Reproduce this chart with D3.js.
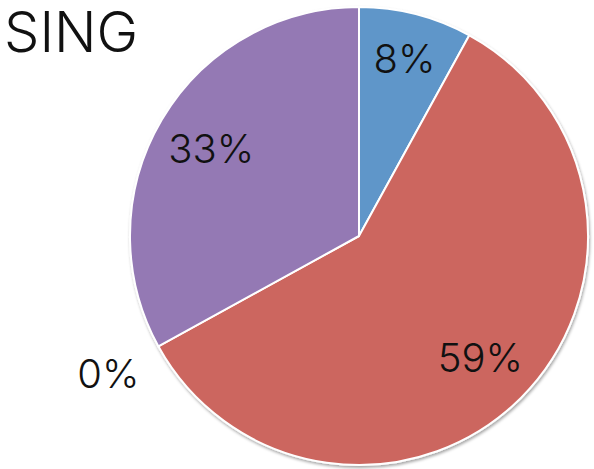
<!DOCTYPE html>
<html>
<head>
<meta charset="utf-8">
<script src="https://cdn.jsdelivr.net/npm/d3@7/dist/d3.min.js"></script>
<style>
  html, body { margin: 0; padding: 0; background: #fff; }
  svg { display: block; }
  text { font-family: Inter, Roboto, "Liberation Sans", Arial, sans-serif; fill: #111; }
</style>
</head>
<body>
<svg id="chart" width="594" height="469"></svg>
<script>
// Share of answers for "SING", clockwise from 12 o'clock
const title = "SING";
const categories = ["A", "B", "C", "D"];
const values = [8, 59, 0, 33];
const colors = ["#5f96c9", "#cc665f", "#cc665f", "#9479b4"];

const width = 594, height = 469;
const cx = 359, cy = 236, radius = 229;

const svg = d3.select("#chart");

const defs = svg.append("defs");
const shadow = defs.append("filter").attr("id", "pieShadow")
  .attr("x", "-10%").attr("y", "-10%").attr("width", "120%").attr("height", "120%");
shadow.append("feDropShadow")
  .attr("dx", 1).attr("dy", 2).attr("stdDeviation", 1.5)
  .attr("flood-color", "#000").attr("flood-opacity", 0.35);

svg.append("text")
  .attr("x", 4).attr("y", 52)
  .attr("font-size", 56)
  .attr("font-weight", 300)
  .text(title);

const pie = d3.pie().sort(null).value(d => d.value);
const data = categories.map((c, i) => ({ cat: c, value: values[i], color: colors[i] }));
const arcs = pie(data);

const arc = d3.arc().innerRadius(0).outerRadius(radius);

const g = svg.append("g").attr("transform", `translate(${cx},${cy})`);

g.append("g").attr("filter", "url(#pieShadow)")
  .selectAll("path")
  .data(arcs.filter(d => d.value > 0))
  .join("path")
  .attr("d", arc)
  .attr("fill", d => d.data.color)
  .attr("stroke", "#fff")
  .attr("stroke-width", 2)
  .attr("stroke-linejoin", "round");

// Labels: inside the slice for non-empty shares, outside the rim for empty ones
function labelPos(d) {
  const a = (d.startAngle + d.endAngle) / 2;
  let r;
  if (d.value === 0) r = radius + 57;
  else if (d.value < 10) r = radius * 0.8;
  else r = radius * 0.75;
  return [Math.sin(a) * r, -Math.cos(a) * r];
}

g.selectAll("text.label")
  .data(arcs)
  .join("text")
  .attr("class", "label")
  .attr("x", d => labelPos(d)[0])
  .attr("y", d => labelPos(d)[1])
  .attr("text-anchor", "middle")
  .attr("dominant-baseline", "central")
  .attr("font-size", 40)
  .attr("font-weight", 300)
  .text(d => d.value + "%");
</script>
</body>
</html>
